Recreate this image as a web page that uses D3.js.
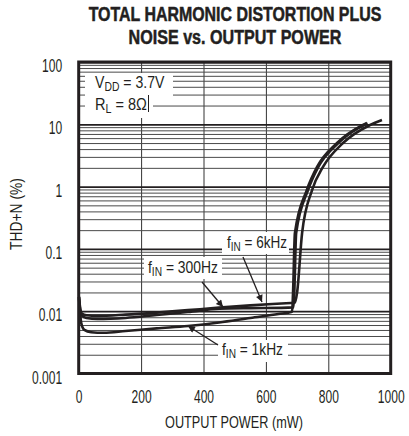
<!DOCTYPE html>
<html><head><meta charset="utf-8">
<script src="https://cdn.jsdelivr.net/npm/d3@7"></script>
<style>
html,body{margin:0;padding:0;background:#fff;}
svg{display:block;}
text{font-family:"Liberation Sans Narrow","Liberation Sans",Arial,sans-serif;fill:#231f20;}
</style></head>
<body>
<svg id="chart" width="409" height="436"></svg>
<script>
// ---------- data ----------
const powerTicks = [0, 200, 400, 600, 800, 1000];
const thdTicks = [0.001, 0.01, 0.1, 1, 10, 100];
const thdTickLabels = ["0.001", "0.01", "0.1", "1", "10", "100"];

const series = ["300Hz", "1kHz", "6kHz"];
const power300 = [1, 4, 10, 25, 60, 150, 250, 350, 450, 550, 650, 688, 691, 697, 735, 768, 832, 915, 926];
const thd300   = [0.017, 0.011, 0.0085, 0.0078, 0.0075, 0.0078, 0.0087, 0.0097, 0.011, 0.0112, 0.0113, 0.0115, 0.02, 0.18, 0.88, 2.07, 5.0, 9.75, 10.3];
const power1k  = [1, 4, 8, 18, 40, 80, 150, 250, 350, 450, 550, 640, 684, 687, 693, 731, 764, 828, 911, 924];
const thd1k    = [0.016, 0.01, 0.0065, 0.005, 0.0046, 0.0045, 0.0048, 0.0053, 0.0058, 0.0066, 0.0078, 0.009, 0.0098, 0.02, 0.18, 0.88, 2.07, 5.0, 9.75, 10.5];
const power6k  = [1, 4, 10, 25, 60, 150, 250, 350, 450, 550, 650, 693, 700, 716, 748, 783, 847, 934, 972];
const thd6k    = [0.017, 0.012, 0.0092, 0.0086, 0.0084, 0.0088, 0.0095, 0.0104, 0.0114, 0.0124, 0.0133, 0.0137, 0.02, 0.18, 0.88, 2.07, 5.0, 9.75, 11.7];

const titleLines = ["TOTAL HARMONIC DISTORTION PLUS", "NOISE vs. OUTPUT POWER"];
const xTitle = "OUTPUT POWER (mW)";
const yTitle = "THD+N (%)";

// ---------- layout ----------
const X0 = 78.7, X1 = 390.7, Y0 = 373.5, Y1 = 62;
const ink = "#231f20";
const svg = d3.select("#chart");
const x = d3.scaleLinear().domain([0, 1000]).range([X0, X1]);
const y = d3.scaleLog().domain([0.001, 100]).range([Y0, Y1]);

const fits = [];
function label(parent, px, py, anchor, size, weight, target, rotate) {
  const g = parent.append("g").attr("transform", `translate(${px},${py})` + (rotate ? ` rotate(${rotate})` : ""));
  const t = g.append("text").attr("text-anchor", anchor).attr("font-size", size).attr("font-weight", weight || "normal");
  fits.push([t, target]);
  return t;
}

// ---------- grid ----------
const gridV = svg.append("g").attr("transform", `translate(0,${Y0})`)
  .call(d3.axisBottom(x).tickValues(powerTicks.slice(1, -1)).tickSize(-(Y0 - Y1)).tickFormat(""));
gridV.select(".domain").remove();
gridV.selectAll("line").attr("stroke", "#333").attr("stroke-width", 1);

const allY = y.ticks();
const minorY = allY.filter(v => !thdTicks.some(d => Math.abs(d - v) / d < 1e-6));
const gridMinor = svg.append("g").attr("transform", `translate(${X0},0)`)
  .call(d3.axisLeft(y).tickValues(minorY).tickSize(-(X1 - X0)).tickFormat(""));
gridMinor.select(".domain").remove();
gridMinor.selectAll("line").attr("stroke", "#4a4a4a").attr("stroke-width", 1);

const gridMajor = svg.append("g").attr("transform", `translate(${X0},0)`)
  .call(d3.axisLeft(y).tickValues(thdTicks).tickSize(-(X1 - X0)).tickFormat(""));
gridMajor.select(".domain").remove();
gridMajor.selectAll("line").attr("stroke", ink).attr("stroke-width", 1.8);

// ---------- white label boxes ----------
const boxes = svg.append("g").attr("fill", "#fff");
boxes.append("rect").attr("x", 85).attr("y", 73).attr("width", 88).attr("height", 24);
boxes.append("rect").attr("x", 85).attr("y", 96).attr("width", 68).attr("height", 22);
boxes.append("rect").attr("x", 222).attr("y", 232).attr("width", 67).attr("height", 22);
boxes.append("rect").attr("x", 144).attr("y", 257).attr("width", 78).attr("height", 22);
boxes.append("rect").attr("x", 218).attr("y", 340).attr("width", 70).attr("height", 22);

// ---------- curves ----------
const line = d3.line().x(d => x(d[0])).y(d => y(d[1])).curve(d3.curveMonotoneX);
const curveData = [
  d3.zip(power300, thd300),
  d3.zip(power1k, thd1k),
  d3.zip(power6k, thd6k)
];
svg.append("g").selectAll("path").data(curveData).join("path")
  .attr("d", line).attr("fill", "none").attr("stroke", ink)
  .attr("stroke-width", 2.6).attr("stroke-linejoin", "round");

// ---------- frame ----------
svg.append("rect").attr("x", X0).attr("y", Y1).attr("width", X1 - X0).attr("height", Y0 - Y1)
  .attr("fill", "none").attr("stroke", ink).attr("stroke-width", 3);

// ---------- axes labels ----------
const xAx = svg.append("g").attr("transform", `translate(0,${Y0})`)
  .call(d3.axisBottom(x).tickValues(powerTicks).tickSize(0).tickFormat(d3.format("d")));
xAx.select(".domain").remove();
xAx.selectAll("text").attr("y", 0).attr("dy", 0).attr("font-size", 17.5).attr("fill", "#2a2a2a")
  .attr("font-family", null);

const yAx = svg.append("g").attr("transform", `translate(${X0},0)`)
  .call(d3.axisLeft(y).tickValues(thdTicks).tickSize(0).tickFormat((d, i) => thdTickLabels[i]));
yAx.select(".domain").remove();
yAx.selectAll("text").attr("x", 0).attr("dy", 0).attr("font-size", 17.5).attr("fill", "#2a2a2a")
  .attr("font-family", null);

// ---------- titles ----------
label(svg, 235, 21, "middle", 19.5, "bold", 293).text(titleLines[0]).attr("stroke", ink).attr("stroke-width", 0.5);
label(svg, 235, 44, "middle", 19.5, "bold", 213).text(titleLines[1]).attr("stroke", ink).attr("stroke-width", 0.5);
label(svg, 234, 428, "middle", 17, "normal", 138).text(xTitle);
label(svg, 22, 214, "middle", 16, "normal", 72, -90).text(yTitle);

// ---------- annotations ----------
function subLabel(px, py, main, sub, rest, target) {
  const t = label(svg, px, py, "start", 17, "normal", target);
  t.append("tspan").text(main);
  t.append("tspan").attr("font-size", 12.5).attr("dy", 3).text(sub);
  t.append("tspan").attr("dy", -3).text(rest);
}
subLabel(95, 88, "V", "DD", " = 3.7V", 70);
subLabel(95, 110, "R", "L", " = 8Ω", 52);
svg.append("line").attr("x1", 148.5).attr("x2", 148.5).attr("y1", 95).attr("y2", 112)
  .attr("stroke", ink).attr("stroke-width", 1);

subLabel(227, 248, "f", "IN", " = 6kHz", 60);
subLabel(148, 273, "f", "IN", " = 300Hz", 70);
subLabel(222, 355, "f", "IN", " = 1kHz", 61);

// arrows
const defs = svg.append("defs");
defs.append("marker").attr("id", "ah").attr("viewBox", "0 0 10 10").attr("refX", 10).attr("refY", 5)
  .attr("markerWidth", 10).attr("markerHeight", 7).attr("markerUnits", "userSpaceOnUse")
  .attr("orient", "auto")
  .append("path").attr("d", "M0,0 L10,5 L0,10 Z").attr("fill", ink);
const arrows = [
  [243, 257, 262, 302],
  [202, 282, 223, 307],
  [218, 345, 188, 326]
];
svg.append("g").selectAll("line").data(arrows).join("line")
  .attr("x1", d => d[0]).attr("y1", d => d[1]).attr("x2", d => d[2]).attr("y2", d => d[3])
  .attr("stroke", ink).attr("stroke-width", 1.3).attr("marker-end", "url(#ah)");

// ---------- squeeze texts to the reference widths ----------
fits.forEach(([t, target]) => {
  const w = t.node().getBBox().width;
  t.attr("transform", `scale(${target / w},1)`);
});
const probe = xAx.selectAll("text").filter(d => d === 1000).node();
const kTick = 27 / probe.getBBox().width;
xAx.selectAll("text").attr("transform", `translate(0,29.5) scale(${kTick},1)`);
yAx.selectAll("text").attr("text-anchor", "end").attr("transform", `translate(-16.5,9.5) scale(${kTick},1)`);
</script>
</body></html>
